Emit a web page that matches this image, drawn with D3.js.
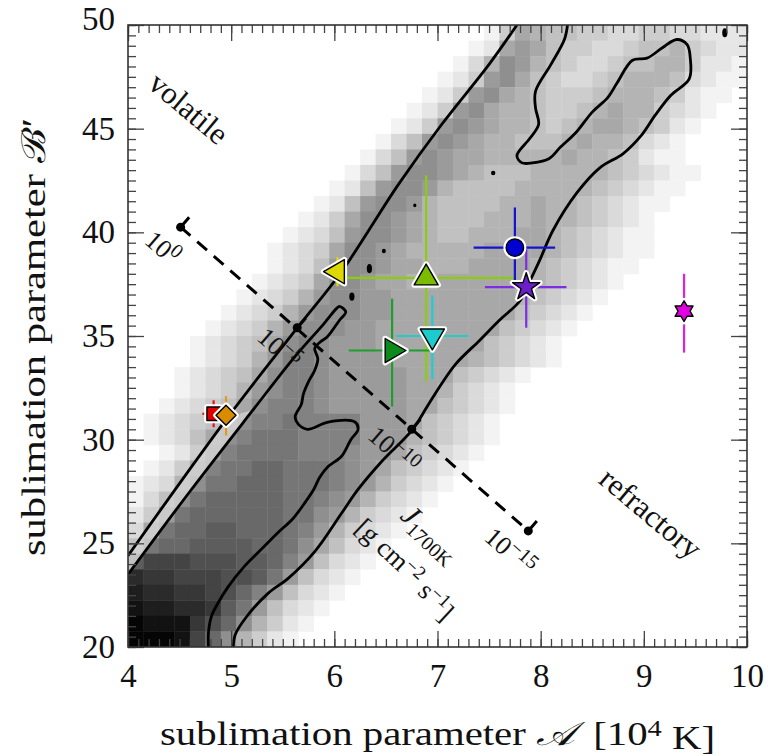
<!DOCTYPE html>
<html>
<head>
<meta charset="utf-8">
<script src="https://cdn.jsdelivr.net/npm/d3@7"></script>
<style>
  body { margin: 0; background: #fff; }
  svg { display: block; }
</style>
</head>
<body>
<svg id="chart"></svg>
<script>
let width = 768, height = 756;

// ---- data ----
// grey histogram: 40 x 40 cells (A step 0.15, B' step 0.75), row 0 at the top
// each row: [first column, grey levels ('1' light ... 'k' almost black)]
const heatRows = [
  [23, "14765544334433222"],
  [22, "127875443345564322"],
  [21, "1369865433455664221"],
  [20, "12489754334566653211"],
  [19, "12489765444566654211"],
  [18, "12489766544567664321"],
  [17, "12489876654567765421"],
  [16, "13589876655567665321"],
  [15, "135898776666676654211"],
  [14, "13589987655566666543211"],
  [13, "12589986555566666543211"],
  [12, "12589986555566766543211"],
  [11, "12479987655566676654321"],
  [10, "123589987655666776543211"],
  [9,  "1234799876666677776543211"],
  [9,  "123589987766677776543211"],
  [8,  "123479987766777777654321"],
  [7,  "123468998877777777654321"],
  [6,  "123468999887777777754321"],
  [5,  "123468999887777777754321"],
  [4,  "1234579a9888777777754321"],
  [4,  "123468aa9888877777654321"],
  [3,  "1234579aa98888877754321"],
  [3,  "1234689aa9888887764321"],
  [2,  "1234579aaa9888887754321"],
  [1,  "1234579aabaaaa888754321"],
  [1,  "123579abbbaaaa888654321"],
  [2,  "1248abbbbaaa988754321"],
  [1,  "1247abbccbbba98754321"],
  [0,  "12369bbcccbbba9864321"],
  [0,  "1359bcccccbba9864321"],
  [0,  "248bccccccbb9864321"],
  [0,  "37bccddcccba864321"],
  [0,  "5bccddddccb975321"],
  [0,  "dfffeeeddca85321"],
  [0,  "hggfffeedb85321"],
  [0,  "ihhggfeca85321"],
  [0,  "jiihhgdb85321"],
  [0,  "kjjjgec96421"],
  [0,  "kkkjfc96421"]
];

// contour lines [A, B']
const outerLeft = [[4, 24.4], [4.97, 31.1], [5.65, 35.45], [6.07, 38.1], [6.62, 42.3],
  [7.04, 45.2], [7.5, 48.1], [7.77, 50]];
const outerRight = [[8.26, 50], [8.23, 49.3], [8.10, 48.1], [7.95, 46.8], [7.95, 46.0],
  [7.98, 45.2], [7.89, 44.5], [7.77, 43.7], [7.82, 43.35], [7.92, 43.35], [8.08, 43.55],
  [8.19, 44.1], [8.34, 44.8], [8.5, 45.8], [8.65, 46.5], [8.74, 47.2], [8.89, 48.3],
  [9.03, 48.4], [9.18, 48.9], [9.32, 49.3], [9.42, 49.05], [9.45, 48.4], [9.44, 47.4],
  [9.26, 46.6], [9.11, 45.65], [8.98, 44.7], [8.8, 43.8], [8.57, 43.1], [8.35, 41.9],
  [8.12, 40.1], [7.99, 38.65], [7.9, 37.7], [7.8, 36.7], [7.6, 35.76], [7.41, 34.8],
  [7.18, 33.67], [7.04, 32.7], [6.9, 31.6], [6.76, 30.5], [6.45, 28.9], [6.23, 27.6],
  [6.07, 26.45], [5.81, 24.6], [5.55, 23.3], [5.36, 22.6], [5.14, 21.4], [5.04, 20.6],
  [5.02, 20]];
const innerContour = [[4, 23.5], [4.6, 27.5], [5.21, 31.42], [5.6, 33.9], [5.9, 35.6],
  [6.02, 36.32], [6.05, 36.43], [6.11, 36.16], [6.05, 35.76], [5.93, 34.95], [5.86, 34.7],
  [5.81, 34.4], [5.84, 33.9], [5.81, 33.35], [5.75, 32.8], [5.70, 32.2], [5.68, 31.7],
  [5.62, 31.1], [5.65, 30.75], [5.74, 30.5], [5.94, 30.85], [6.2, 30.85], [6.23, 30.5],
  [6.16, 30.0], [6.07, 29.2], [5.94, 28.7], [5.86, 28.2], [5.8, 27.6], [5.72, 27.0],
  [5.6, 26.2], [5.45, 25.5], [5.29, 24.7], [5.13, 23.9], [4.97, 22.9], [4.87, 22.1],
  [4.81, 21.5], [4.78, 20.7], [4.78, 20]];
// small closed contour islands
const islandA = [9.785, 7.54, 6.78, 6.48, 6.34, 6.17];
const islandB = [49.63, 42.86, 41.3, 39.1, 38.25, 36.9];

// sublimation flux J_1700K along the dashed line
const fluxA = [4.51, 5.64, 6.75, 7.88];
const fluxB = [40.25, 35.4, 30.5, 25.6];
const fluxExp = ["0", "\u22125", "\u221210", "\u221215"];

// measured species
const markerA = [4.83, 4.95, 6.03, 6.89, 6.56, 6.95, 7.75, 7.86, 9.39];
const markerB = [31.25, 31.18, 38.1, 37.8, 34.3, 35.0, 39.26, 37.36, 36.2];
const errA = [[4.72, 4.94], [4.86, 5.08], [5.98, 6.09], [6.09, 7.75], [6.14, 6.93],
  [6.60, 7.30], [7.35, 8.14], [7.46, 8.25], [9.39, 9.39]];
const errB = [[30.6, 31.9], [30.2, 32.1], [37.4, 38.8], [32.8, 42.75], [31.6, 36.8],
  [32.9, 36.95], [37.7, 41.2], [35.4, 39.2], [34.2, 38.0]];

const xTicks = [4, 5, 6, 7, 8, 9, 10];
const yTicks = [20, 25, 30, 35, 40, 45, 50];

// ---- layout ----
const x = d3.scaleLinear().domain([4, 10]).range([128, 747]);
const y = d3.scaleLinear().domain([20, 50]).range([647, 25]);
const serif = "'Liberation Serif', 'DejaVu Serif', serif";

let svg = d3.select("#chart")
    .attr("width", width)
    .attr("height", height)
    .attr("viewBox", "0 0 " + width + " " + height);

svg.append("defs").append("clipPath").attr("id", "plotclip")
    .append("rect")
    .attr("x", x(4)).attr("y", y(50))
    .attr("width", x(10) - x(4)).attr("height", y(20) - y(50));

const plot = svg.append("g").attr("clip-path", "url(#plotclip)");

// heat map cells
let cells = [];
heatRows.forEach((row, r) => {
    const [c0, levels] = row;
    levels.split("").forEach((ch, k) => {
        if (ch === ".") return;
        cells.push({c: c0 + k, r: r, level: parseInt(ch, 36)});
    });
});

plot.append("g")
    .selectAll("rect")
    .data(cells)
    .enter()
    .append("rect")
    .attr("x", d => x(4 + 0.15 * d.c))
    .attr("y", d => y(50 - 0.75 * d.r))
    .attr("width", d => x(4 + 0.15 * (d.c + 1)) - x(4 + 0.15 * d.c) + 0.4)
    .attr("height", d => y(50 - 0.75 * (d.r + 1)) - y(50 - 0.75 * d.r) + 0.4)
    .attr("fill", d => { const g = Math.round(255 - 12.5 * d.level); return d3.rgb(g, g, g); });

// light strip between the two close contours on the left
const strip = outerLeft.filter(p => p[1] <= 32).concat(innerContour.slice(0, 3).reverse());
plot.append("path")
    .attr("d", d3.line().x(d => x(d[0])).y(d => y(d[1]))(strip) + "Z")
    .attr("fill", "#d2d2d2")
    .attr("opacity", 0.85);

// contours
const contourLine = d3.line()
    .x(d => x(d[0]))
    .y(d => y(d[1]))
    .curve(d3.curveCatmullRom.alpha(0.5));

plot.selectAll(".contour")
    .data([outerLeft, outerRight, innerContour])
    .enter()
    .append("path")
    .attr("class", "contour")
    .attr("d", d => contourLine(d))
    .attr("fill", "none")
    .attr("stroke", "#000")
    .attr("stroke-width", 2.8)
    .attr("stroke-linejoin", "round");

const islandR = [[2.6, 4.5], [2.2, 2.2], [1.6, 1.8], [2, 2.3], [2.6, 4.6], [2.6, 4.2]];
plot.selectAll(".island")
    .data(islandA)
    .enter()
    .append("ellipse")
    .attr("cx", d => x(d))
    .attr("cy", (d, i) => y(islandB[i]))
    .attr("rx", (d, i) => islandR[i][0])
    .attr("ry", (d, i) => islandR[i][1])
    .attr("fill", "#000");

// dashed flux line
const fp = fluxA.map((a, i) => [x(a), y(fluxB[i])]);
const dx = fp[3][0] - fp[0][0], dy = fp[3][1] - fp[0][1];
const len = Math.hypot(dx, dy);
const ux = dx / len, uy = dy / len;      // along the line
const px = uy, py = -ux;                 // perpendicular, pointing up-right
const angle = Math.atan2(dy, dx) * 180 / Math.PI;

svg.append("line")
    .attr("x1", fp[0][0]).attr("y1", fp[0][1])
    .attr("x2", fp[3][0]).attr("y2", fp[3][1])
    .attr("stroke", "#000")
    .attr("stroke-width", 3)
    .attr("stroke-dasharray", "13,9");

svg.selectAll(".fluxtick")
    .data(fp)
    .enter()
    .append("line")
    .attr("x1", d => d[0]).attr("y1", d => d[1])
    .attr("x2", d => d[0] + 13 * px).attr("y2", d => d[1] + 13 * py)
    .attr("stroke", "#000")
    .attr("stroke-width", 3);

svg.selectAll(".fluxdot")
    .data(fp)
    .enter()
    .append("circle")
    .attr("cx", d => d[0]).attr("cy", d => d[1])
    .attr("r", 4.5)
    .attr("fill", "#000");

const fluxLabel = svg.selectAll(".fluxlabel")
    .data(fp)
    .enter()
    .append("text")
    .attr("transform", d => `translate(${d[0] - 27 * px},${d[1] - 27 * py}) rotate(${angle})`)
    .attr("text-anchor", "middle")
    .attr("dy", "0.35em")
    .style("font-family", serif)
    .style("font-size", "26px")
    .attr("fill", "#111");
fluxLabel.append("tspan").text("10");
fluxLabel.append("tspan")
    .attr("dy", "-0.45em")
    .style("font-size", "20px")
    .text((d, i) => fluxExp[i]);

// labels in the plane
function rotLabel(cx, cy, rot, size) {
    return svg.append("text")
        .attr("transform", `translate(${cx},${cy}) rotate(${rot})`)
        .attr("text-anchor", "middle")
        .attr("dy", "0.35em")
        .style("font-family", serif)
        .style("font-size", size + "px")
        .attr("fill", "#111");
}
rotLabel(189, 108, 40, 31).text("volatile");
rotLabel(651, 513, 40, 31).text("refractory");

const jl = rotLabel(431, 533, 43, 30);
jl.append("tspan").style("font-style", "italic").text("J");
jl.append("tspan").attr("dy", "0.3em").style("font-size", "20px").text("1700K");

const ul = rotLabel(407, 567, 43, 27);
ul.append("tspan").text("[g cm");
ul.append("tspan").attr("dy", "-0.4em").style("font-size", "19px").text("\u22122");
ul.append("tspan").attr("dy", "0.4em").text(" s");
ul.append("tspan").attr("dy", "-0.4em").style("font-size", "19px").text("\u22121");
ul.append("tspan").attr("dy", "0.4em").text("]");

// markers with error bars
const hexStar = {
    draw(context, size) {
        const R = Math.sqrt(size / 2.6), r = R / Math.sqrt(3);
        for (let i = 0; i < 12; i++) {
            const a = -Math.PI / 2 + i * Math.PI / 6;
            const rad = i % 2 ? r : R;
            if (i === 0) context.moveTo(rad * Math.cos(a), rad * Math.sin(a));
            else context.lineTo(rad * Math.cos(a), rad * Math.sin(a));
        }
        context.closePath();
    }
};
const markerStyle = [
    {sym: d3.symbolSquare,   rot: 0,   size: 180, fill: "#e00000", bar: "#ee1111"},
    {sym: d3.symbolSquare,   rot: 45,  size: 200, fill: "#d98c00", bar: "#e39a1c"},
    {sym: d3.symbolTriangle, rot: -90, size: 250, fill: "#dcd800", bar: "#e0dc00"},
    {sym: d3.symbolTriangle, rot: 0,   size: 250, fill: "#7cbc00", bar: "#8ccc10"},
    {sym: d3.symbolTriangle, rot: 90,  size: 250, fill: "#0c8a1c", bar: "#1e9e2e"},
    {sym: d3.symbolTriangle, rot: 180, size: 250, fill: "#1ccccc", bar: "#22cccc"},
    {sym: d3.symbolCircle,   rot: 0,   size: 240, fill: "#0000d0", bar: "#1414cc"},
    {sym: d3.symbolStar,     rot: 0,   size: 230, fill: "#6a1fc8", bar: "#7a2ee0"},
    {sym: hexStar,           rot: 0,   size: 280, fill: "#e000e0", bar: "#dd22dd"}
];

const bars = svg.append("g");
markerA.forEach((a, i) => {
    const st = markerStyle[i];
    if (errA[i][1] > errA[i][0]) {
        bars.append("line")
            .attr("x1", x(errA[i][0])).attr("x2", x(errA[i][1]))
            .attr("y1", y(markerB[i])).attr("y2", y(markerB[i]))
            .attr("stroke", st.bar).attr("stroke-width", 2.2);
    }
    bars.append("line")
        .attr("x1", x(a)).attr("x2", x(a))
        .attr("y1", y(errB[i][0])).attr("y2", y(errB[i][1]))
        .attr("stroke", st.bar).attr("stroke-width", 2.2);
});

const marks = svg.append("g");
markerA.forEach((a, i) => {
    const st = markerStyle[i];
    const d = d3.symbol().type(st.sym).size(st.size)();
    const t = `translate(${x(a)},${y(markerB[i])}) rotate(${st.rot})`;
    marks.append("path").attr("d", d).attr("transform", t)
        .attr("fill", "#fff").attr("stroke", "#fff")
        .attr("stroke-width", 5.5).attr("stroke-linejoin", "round");
    marks.append("path").attr("d", d).attr("transform", t)
        .attr("fill", st.fill).attr("stroke", "#000")
        .attr("stroke-width", 1.4).attr("stroke-linejoin", "round");
});

// frame and ticks (inward on all sides)
const minorX = d3.range(40, 101).map(v => v / 10);
const minorY = d3.range(40, 101).map(v => v / 2);

function tickGroup(axis, tx, ty) {
    const g = svg.append("g").attr("transform", `translate(${tx},${ty})`).call(axis);
    g.select(".domain").remove();
    g.selectAll("line").attr("stroke", "#444").attr("stroke-width", 1.3);
    return g;
}
tickGroup(d3.axisBottom(x).tickValues(minorX).tickSize(-8).tickFormat(""), 0, y(20));
tickGroup(d3.axisTop(x).tickValues(minorX).tickSize(-8).tickFormat(""), 0, y(50));
tickGroup(d3.axisLeft(y).tickValues(minorY).tickSize(-8).tickFormat(""), x(4), 0);
tickGroup(d3.axisRight(y).tickValues(minorY).tickSize(-8).tickFormat(""), x(10), 0);
tickGroup(d3.axisTop(x).tickValues(xTicks).tickSize(-16).tickFormat(""), 0, y(50));
tickGroup(d3.axisRight(y).tickValues(yTicks).tickSize(-16).tickFormat(""), x(10), 0);

const xAxisG = tickGroup(d3.axisBottom(x).tickValues(xTicks).tickSize(-16)
    .tickPadding(17).tickFormat(d3.format("d")), 0, y(20));
const yAxisG = tickGroup(d3.axisLeft(y).tickValues(yTicks).tickSize(-16)
    .tickPadding(13).tickFormat(d3.format("d")), x(4), 0);
[xAxisG, yAxisG].forEach(g => g.selectAll("text")
    .style("font-family", serif)
    .style("font-size", "33px")
    .attr("fill", "#111"));
yAxisG.selectAll("text").filter(d => d === 50).attr("transform", "translate(0,-6)");

svg.append("rect")
    .attr("x", x(4)).attr("y", y(50))
    .attr("width", x(10) - x(4)).attr("height", y(20) - y(50))
    .attr("fill", "none")
    .attr("stroke", "#333")
    .attr("stroke-width", 1.6);

// axis titles
const xt = svg.append("text")
    .attr("x", 160).attr("y", 745)
    .attr("textLength", 555)
    .attr("lengthAdjust", "spacingAndGlyphs")
    .style("font-family", serif)
    .style("font-size", "33px")
    .attr("fill", "#111");
xt.append("tspan").text("sublimation parameter ");
xt.append("tspan").style("font-style", "italic").text("\uD835\uDC9C");
xt.append("tspan").attr("dx", 7).text(" [10");
xt.append("tspan").attr("dy", "-0.4em").style("font-size", "23px").text("4");
xt.append("tspan").attr("dy", "0.4em").text(" K]");

const yt = svg.append("text")
    .attr("transform", "translate(45,556) rotate(-90)")
    .attr("textLength", 438)
    .attr("lengthAdjust", "spacingAndGlyphs")
    .style("font-family", serif)
    .style("font-size", "33px")
    .attr("fill", "#111");
yt.append("tspan").text("sublimation parameter ");
yt.append("tspan").text("\u212C\u2032");
</script>
</body>
</html>
